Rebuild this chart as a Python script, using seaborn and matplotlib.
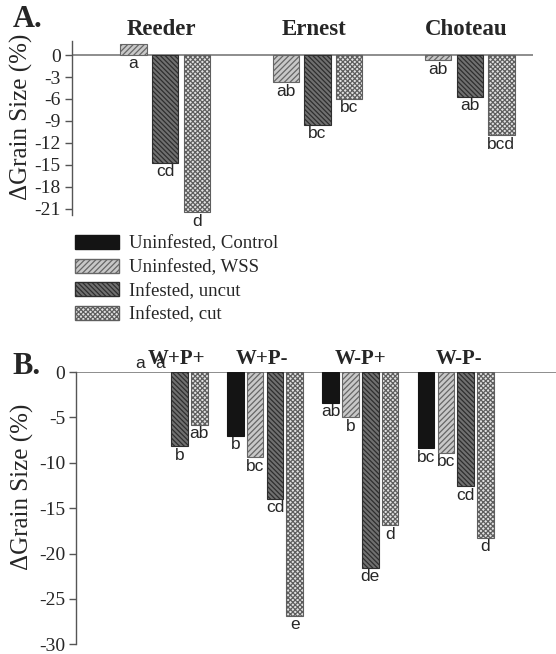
import numpy as np
import pandas as pd
import matplotlib
matplotlib.use("Agg")
import matplotlib.pyplot as plt
from matplotlib.patches import Patch
import seaborn as sns

# --- data -------------------------------------------------------------
treatments = ["Uninfested, Control", "Uninfested, WSS",
              "Infested, uncut", "Infested, cut"]

# panel A: cultivars (control is the reference, so no bar)
cultivars = ["Reeder", "Ernest", "Choteau"]
a_wss = [1.5, -3.7, -0.7]
a_uncut = [-14.7, -9.5, -5.7]
a_cut = [-21.5, -6.0, -11.0]
a_letters = {
    "Uninfested, WSS": ["a", "ab", "ab"],
    "Infested, uncut": ["cd", "bc", "ab"],
    "Infested, cut": ["d", "bc", "bcd"],
}

# panel B: weed / pest combinations
combos = ["W+P+", "W+P-", "W-P+", "W-P-"]
b_control = [0.0, -7.0, -3.4, -8.4]
b_wss = [0.0, -9.4, -5.0, -8.9]
b_uncut = [-8.2, -14.0, -21.6, -12.6]
b_cut = [-5.8, -26.9, -16.9, -18.3]
b_letters = {
    "Uninfested, Control": ["a", "b", "ab", "bc"],
    "Uninfested, WSS": ["a", "bc", "b", "bc"],
    "Infested, uncut": ["b", "cd", "de", "cd"],
    "Infested, cut": ["ab", "e", "d", "d"],
}

df_a = pd.DataFrame({
    "group": cultivars * 3,
    "treatment": [treatments[1]] * 3 + [treatments[2]] * 3 + [treatments[3]] * 3,
    "value": a_wss + a_uncut + a_cut,
})
df_b = pd.DataFrame({
    "group": combos * 4,
    "treatment": sum([[t] * 4 for t in treatments], []),
    "value": b_control + b_wss + b_uncut + b_cut,
})

# --- styling ----------------------------------------------------------
face = {treatments[0]: "#141414", treatments[1]: "#c8c8c8",
        treatments[2]: "#707070", treatments[3]: "#e2e2e2"}
edge = {treatments[0]: "#141414", treatments[1]: "#666666",
        treatments[2]: "#2e2e2e", treatments[3]: "#5e5e5e"}
hatch = {treatments[0]: "", treatments[1]: "//////",
         treatments[2]: "\\\\\\\\\\\\\\", treatments[3]: "xxxxxxx"}

sns.set_style("white")
plt.rcParams["font.family"] = ["Liberation Serif", "DejaVu Serif"]
plt.rcParams["hatch.linewidth"] = 0.9

fig = plt.figure(figsize=(5.56, 6.54), dpi=100)
ax_a = fig.add_axes([0.129, 0.671, 0.830, 0.266])
ax_b = fig.add_axes([0.137, 0.015, 0.863, 0.416])


def draw_panel(ax, df, order, letters):
    sns.barplot(data=df, x="group", y="value", hue="treatment",
                order=order, hue_order=treatments, palette=face,
                width=0.83, gap=0.16, linewidth=0.8, legend=False, ax=ax)
    # one container per hue level (empty when a level has no rows)
    for t, cont in zip(treatments, ax.containers):
        if t not in letters:
            continue
        for bar, lab in zip(cont.patches, letters[t]):
            bar.set_hatch(hatch[t])
            bar.set_edgecolor(edge[t])
            h = bar.get_height()
            xc = bar.get_x() + bar.get_width() / 2
            if h == 0:
                bar.set_linewidth(0)
                ax.annotate(lab, (xc, 0), xytext=(0, 0.5),
                            textcoords="offset points", ha="center",
                            va="bottom", fontsize=12.5,
                            family="Liberation Sans")
            else:
                ax.annotate(lab, (xc, min(h, 0)), xytext=(0, -1),
                            textcoords="offset points", ha="center",
                            va="top", fontsize=12.5,
                            family="Liberation Sans")
    ax.axhline(0, color="#7a7a7a", lw=1.2, zorder=0.5)
    for s in ["top", "right", "bottom"]:
        ax.spines[s].set_visible(False)
    ax.spines["left"].set_color("#555555")
    ax.spines["left"].set_linewidth(1.0)
    ax.tick_params(axis="y", left=True, length=5, width=1.0,
                   color="#555555", labelsize=14, pad=3)
    ax.tick_params(axis="x", bottom=False, labelbottom=False)
    ax.set_xlabel("")
    ax.set_ylabel("ΔGrain Size (%)", fontsize=18)


# panel A
draw_panel(ax_a, df_a, cultivars, a_letters)
ax_a.set_xlim(-0.51, 2.52)
ax_a.set_ylim(-21.9, 1.9)
ax_a.set_yticks(np.arange(0, -22, -3))
ax_a.set_yticklabels([str(v) for v in np.arange(0, -22, -3)])
ax_a.yaxis.set_label_coords(-0.083, 0.565)
for i, name in enumerate(cultivars):
    ax_a.text(i + 0.08, 2.1, name, ha="center", va="bottom",
              fontsize=16.5, fontweight="bold")
fig.text(0.023, 0.959, "A.", fontsize=22, fontweight="bold")

# panel B
draw_panel(ax_b, df_b, combos, b_letters)
ax_b.set_xlim(-0.98, 4.05)
ax_b.set_ylim(-30, 0)
ax_b.set_yticks(np.arange(0, -31, -5))
ax_b.set_yticklabels([str(v) for v in np.arange(0, -31, -5)])
ax_b.yaxis.set_label_coords(-0.088, 0.578)
title_shift = [0.07, -0.03, 0.0, 0.03]
for i, name in enumerate(combos):
    ax_b.text(i + title_shift[i], 0.3, name, ha="center", va="bottom",
              fontsize=15, fontweight="bold")
fig.text(0.023, 0.428, "B.", fontsize=22, fontweight="bold")

# legend between panels
handles = [Patch(facecolor=face[t], edgecolor=edge[t], hatch=hatch[t],
                 label=t) for t in treatments]
fig.legend(handles=handles, loc="upper left",
           bbox_to_anchor=(0.135, 1 - 235 / 654), frameon=False,
           fontsize=13.5, handlelength=2.35, handleheight=0.78,
           labelspacing=0.32, handletextpad=0.55, borderaxespad=0,
           borderpad=0)

fig.savefig("out.png", dpi=100)
